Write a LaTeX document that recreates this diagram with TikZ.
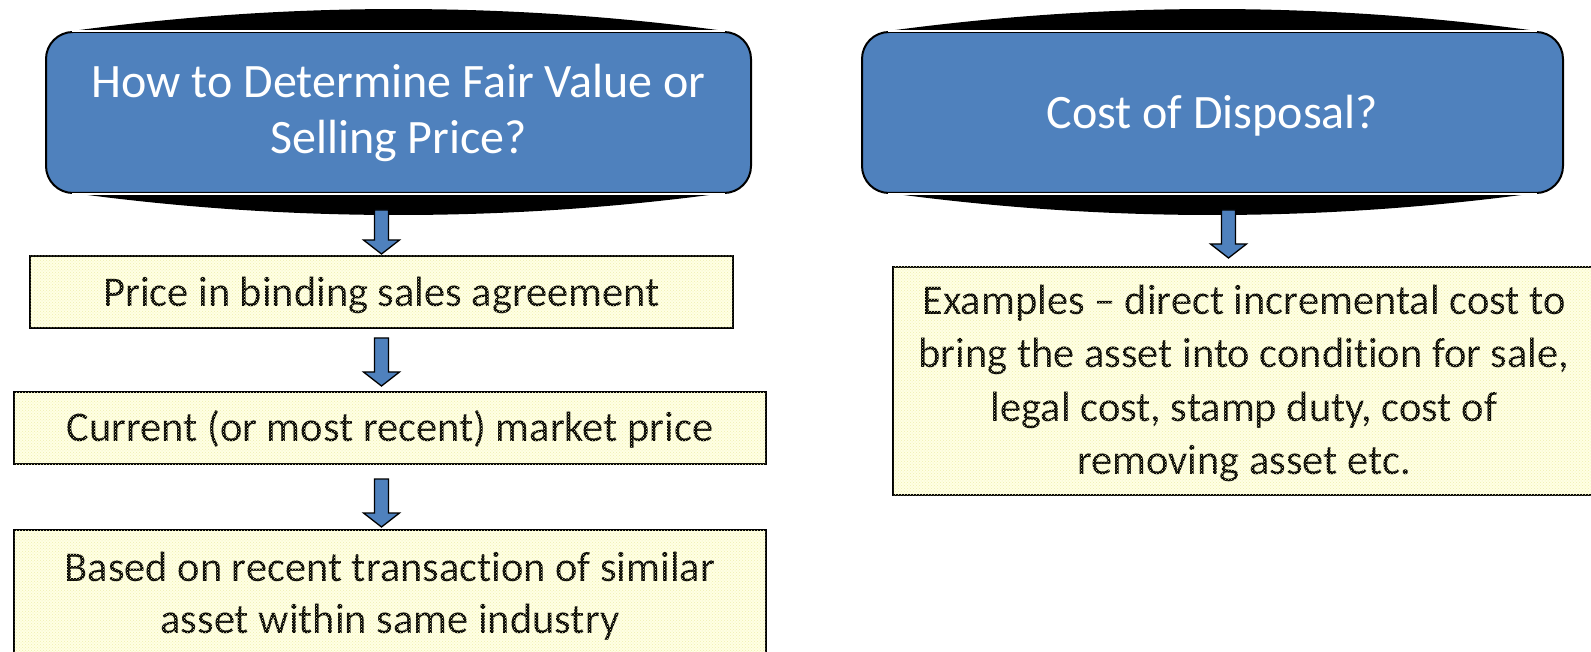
\documentclass[tikz,border=0pt]{standalone}
\usepackage{fontspec}
\setmainfont{Carlito}[Ligatures={TeX,NoCommon}]
\usetikzlibrary{calc,patterns,backgrounds}
\definecolor{officeblue}{HTML}{4F81BD}
\definecolor{paleyellow}{HTML}{FFFFE4}
\definecolor{dotyellow}{HTML}{EFEFB0}
% invisible rules fixing the height of a first line and the depth of a last line
\newcommand{\upstrut}[1]{\rule{0pt}{#1}}
\newcommand{\downstrut}[1]{\rule[-#1]{0pt}{0pt}}

\begin{document}
\begin{tikzpicture}[x=1pt,y=-1pt,
  headbox/.style={draw=black, line width=2pt, fill=officeblue, rounded corners=27pt,
    text=white, align=center, font=\fontsize{48}{56}\selectfont, inner sep=0pt},
  notebox/.style={draw=black, line width=2pt, fill=paleyellow, align=center,
    font=\fontsize{42.4}{52}\selectfont, inner sep=0pt},
  dotfill/.style={pattern=crosshatch dots, pattern color=dotyellow},
  blockarrow/.style={draw=black, line width=1.3pt, fill=officeblue, line join=miter,
    to path={($(\tikztostart)+(-7,0)$) -- ($(\tikztostart)+(7,0)$)
      -- ($(\tikztotarget)+(7,-14)$) -- ($(\tikztotarget)+(18,-14)$)
      -- (\tikztotarget) -- ($(\tikztotarget)+(-18,-14)$)
      -- ($(\tikztotarget)+(-7,-14)$) -- cycle}},
  lens/.style={fill=black},
  seam/.style={draw=white, line width=1.1pt},
]
\useasboundingbox (0,0) rectangle (1591,652);

% heading boxes
\node[headbox, minimum width=705pt, minimum height=161pt] (hL) at (398.5,112.5)
  {\upstrut{42pt}How to Determine Fair Value or\\Selling Price?\downstrut{15pt}};
\node[headbox, minimum width=701pt, minimum height=161pt] (hR) at (1212.5,112.5)
  {\upstrut{47pt}Cost of Disposal?\downstrut{15pt}};

% left column of notes
\node[notebox, minimum width=703pt, minimum height=72pt] (b1) at (381.5,292)
  {\upstrut{43pt}Price in binding sales agreement\downstrut{13pt}};
\node[notebox, minimum width=752pt, minimum height=72pt] (b2) at (390,428)
  {\upstrut{39pt}Current (or most recent) market price\downstrut{13pt}};
\node[notebox, minimum width=752pt, minimum height=132pt] (b3) at (390,596)
  {\upstrut{35pt}Based on recent transaction of similar\\asset within same industry\downstrut{13pt}};

% right column note
\node[notebox, font=\fontsize{42.4}{53.5}\selectfont, minimum width=702pt, minimum height=228pt] (bR) at (1244,381)
  {\upstrut{40pt}Examples – direct incremental cost to\\bring the asset into condition for sale,\\legal cost, stamp duty, cost of\\removing asset etc.\downstrut{13pt}};

% dotted texture over the note boxes
\foreach \b in {b1,b2,b3,bR}
  \path[dotfill] ($(\b.north west)+(1,1)$) rectangle ($(\b.south east)+(-1,-1)$);

% curved black bands above and below each heading box
\begin{scope}[on background layer]
  \fill[white] (0,0) rectangle (1591,652);
  \foreach \h in {hL,hR} {
    \fill[lens] ($(\h.north west)+(27,10)$) -- ($(\h.north west)+(27,0)$)
      .. controls ($(\h.north west)+(244,-29.3)$) and ($(\h.north east)+(-244,-29.3)$)
      .. ($(\h.north east)+(-27,0)$) -- ($(\h.north east)+(-27,10)$) -- cycle;
    \fill[lens] ($(\h.south west)+(35,-10)$) -- ($(\h.south west)+(35,0)$)
      .. controls ($(\h.south west)+(247,28)$) and ($(\h.south east)+(-247,28)$)
      .. ($(\h.south east)+(-35,0)$) -- ($(\h.south east)+(-35,-10)$) -- cycle;
  }
\end{scope}
\foreach \h in {hL,hR} {
  \draw[seam] ($(\h.north west)+(27,0)$) -- ($(\h.north east)+(-27,0)$);
  \draw[seam] ($(\h.south west)+(27,0)$) -- ($(\h.south east)+(-27,0)$);
}

% block arrows
\draw[blockarrow] ($(hL.south -| b1.north)+(0,16)$) to ($(b1.north)+(0,-1)$);
\draw[blockarrow] ($(b1.south)+(0,9)$) to ($(b2.north -| b1.south)+(0,-5)$);
\draw[blockarrow] ($(b2.south -| b1.south)+(0,14)$) to ($(b3.north -| b1.south)+(0,-2)$);
\draw[blockarrow] ($(hR.south)+(16,16)$) to ($(hR.south)+(16,64)$);
\end{tikzpicture}
\end{document}
